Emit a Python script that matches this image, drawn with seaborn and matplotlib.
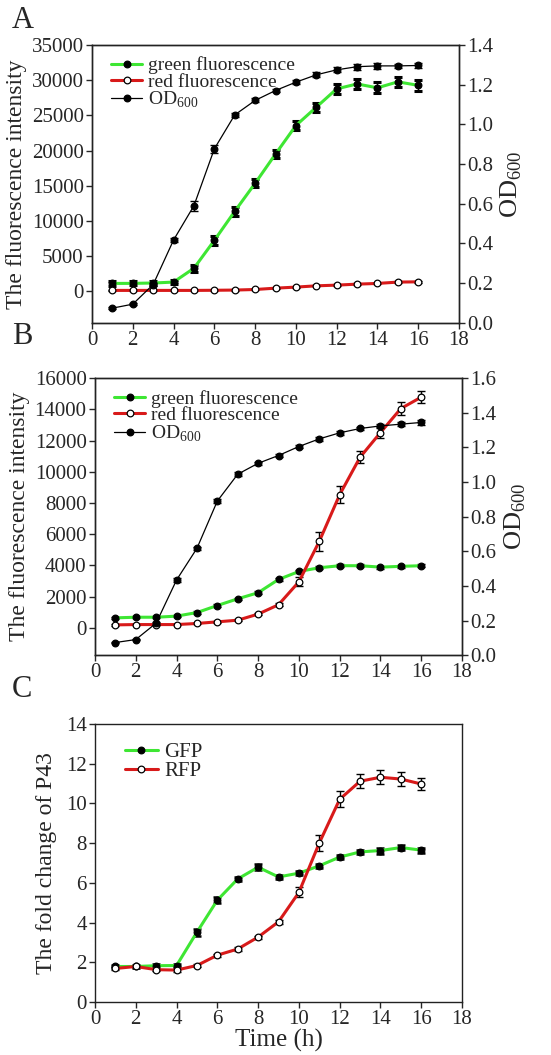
import numpy as np
import pandas as pd
import matplotlib
matplotlib.use('Agg')
import matplotlib.pyplot as plt
import seaborn as sns

# time points (h)
time = list(range(1, 17))

# panel A
a_green = [1140, 1150, 1200, 1330, 3300, 7250, 11370, 15350, 19500, 23550, 26150, 28750, 29450, 28900, 29750, 29250]
a_green_err = [300, 300, 300, 300, 500, 600, 600, 550, 600, 600, 650, 700, 750, 800, 750, 800]
a_red = [150, 150, 150, 150, 150, 170, 200, 280, 470, 620, 800, 900, 1040, 1140, 1330, 1370]
a_red_err = [80, 80, 80, 80, 80, 80, 80, 80, 80, 80, 90, 90, 100, 100, 100, 100]
a_od = [0.074, 0.094, 0.193, 0.417, 0.59, 0.876, 1.047, 1.12, 1.17, 1.212, 1.249, 1.274, 1.29, 1.294, 1.294, 1.296]
a_od_err = [0.005, 0.005, 0.008, 0.012, 0.025, 0.02, 0.01, 0.01, 0.01, 0.01, 0.012, 0.012, 0.015, 0.015, 0.012, 0.012]

# panel B
b_green = [640, 680, 680, 750, 980, 1430, 1860, 2250, 3100, 3610, 3850, 3980, 3980, 3890, 3940, 3980]
b_green_err = [80, 80, 80, 80, 80, 80, 80, 80, 90, 90, 90, 90, 90, 90, 90, 90]
b_red = [190, 210, 210, 210, 280, 385, 490, 880, 1480, 2950, 5540, 8530, 10930, 12510, 14050, 14780]
b_red_err = [60, 60, 60, 60, 60, 60, 60, 80, 100, 300, 600, 550, 400, 350, 400, 400]
b_od = [0.073, 0.09, 0.185, 0.434, 0.617, 0.89, 1.045, 1.108, 1.153, 1.205, 1.249, 1.284, 1.309, 1.324, 1.334, 1.344]
b_od_err = [0.005, 0.005, 0.008, 0.01, 0.01, 0.012, 0.01, 0.01, 0.01, 0.01, 0.01, 0.01, 0.01, 0.01, 0.012, 0.012]

# panel C
c_gfp = [1.79, 1.79, 1.83, 1.84, 3.52, 5.13, 6.2, 6.79, 6.3, 6.49, 6.86, 7.3, 7.56, 7.63, 7.78, 7.65]
c_gfp_err = [0.1, 0.1, 0.1, 0.1, 0.18, 0.15, 0.12, 0.15, 0.12, 0.1, 0.1, 0.12, 0.12, 0.15, 0.12, 0.12]
c_rfp = [1.69, 1.79, 1.63, 1.61, 1.84, 2.36, 2.67, 3.27, 4.04, 5.52, 8.01, 10.21, 11.12, 11.32, 11.23, 10.98]
c_rfp_err = [0.08, 0.08, 0.08, 0.08, 0.08, 0.08, 0.08, 0.08, 0.1, 0.25, 0.4, 0.4, 0.35, 0.35, 0.35, 0.3]

GREEN = '#3ee633'
RED = '#d81a1a'

sns.set_style('ticks')
plt.rcParams['font.family'] = ['Liberation Serif', 'DejaVu Serif']
plt.rcParams['mathtext.fontset'] = 'custom'
plt.rcParams['mathtext.rm'] = 'Liberation Serif'
plt.rcParams['axes.edgecolor'] = '#222222'
plt.rcParams['axes.linewidth'] = 1.0

fig = plt.figure(figsize=(5.51, 10.55), dpi=100)


def draw(ax, y, err, color, lw, filled, label, capthick=1.0):
    df = pd.DataFrame({'time': time, 'value': y})
    sns.lineplot(data=df, x='time', y='value', ax=ax, color=color, linewidth=lw,
                 marker='o', markersize=4.8, markeredgecolor='black', markeredgewidth=0.9,
                 markerfacecolor='black' if filled else 'white', label=label, zorder=3)
    ax.errorbar(time, y, yerr=err, fmt='none', ecolor='black', elinewidth=1.0,
                capsize=3, capthick=capthick, zorder=2)


def style_x(ax):
    ax.set_xlim(0, 18)
    ax.set_xticks(np.arange(0, 19, 2))
    ax.set_xlabel('')
    ax.tick_params(axis='both', labelsize=15, direction='out', length=4, width=1, pad=2)


def growth_panel(rect, green, green_err, red, red_err, od, od_err, ylim, yticks, od_ylim, od_ticks, gcap):
    ax = fig.add_axes(rect)
    draw(ax, green, green_err, GREEN, 2.2, True, 'green fluorescence', capthick=gcap)
    draw(ax, red, red_err, RED, 2.2, False, 'red fluorescence')
    ax.set_ylim(*ylim)
    ax.set_yticks(yticks)
    ax.set_ylabel('The fluorescence intensity', fontsize=17, labelpad=3)
    style_x(ax)
    ax2 = ax.twinx()
    draw(ax2, od, od_err, 'black', 0.9, True, 'OD$_{600}$')
    ax2.set_ylim(*od_ylim)
    ax2.set_yticks(od_ticks)
    ax2.set_yticklabels(['%.1f' % v for v in od_ticks])
    ax2.set_ylabel('OD$_{600}$', fontsize=19, labelpad=4)
    ax2.tick_params(axis='y', labelsize=15, direction='out', length=4, width=1, pad=2)
    h1, l1 = ax.get_legend_handles_labels()
    h2, l2 = ax2.get_legend_handles_labels()
    if ax.get_legend():
        ax.get_legend().remove()
    ax2.legend(h1 + h2, l1 + l2, loc='upper left', frameon=False, fontsize=14,
               handlelength=1.6, handletextpad=0.3, labelspacing=-0.05,
               borderaxespad=0.2, bbox_to_anchor=(0.02, 1.0))
    return ax, ax2


growth_panel([0.167, 0.694, 0.666, 0.2635], a_green, a_green_err, a_red, a_red_err,
             a_od, a_od_err, (-4450, 35000), np.arange(0, 35001, 5000),
             (0, 1.4), np.arange(0, 1.41, 0.2), 2.2)

growth_panel([0.1724, 0.379, 0.6661, 0.2626], b_green, b_green_err, b_red, b_red_err,
             b_od, b_od_err, (-1750, 16000), np.arange(0, 16001, 2000),
             (0, 1.6), np.arange(0, 1.61, 0.2), 1.0)

axc = fig.add_axes([0.1724, 0.0502, 0.6661, 0.2635])
draw(axc, c_gfp, c_gfp_err, GREEN, 2.2, True, 'GFP', capthick=1.8)
draw(axc, c_rfp, c_rfp_err, RED, 2.2, False, 'RFP')
axc.set_ylim(0, 14)
axc.set_yticks(np.arange(0, 15, 2))
style_x(axc)
axc.set_ylabel('The fold change of P43', fontsize=17, labelpad=6)
axc.set_xlabel('Time (h)', fontsize=18, labelpad=0)
axc.legend(loc='upper left', frameon=False, fontsize=15, handlelength=1.6,
           handletextpad=0.3, labelspacing=-0.05, bbox_to_anchor=(0.03, 1.0))

fig.text(0.022, 0.981, 'A', fontsize=22, va='center', ha='left')
fig.text(0.022, 0.681, 'B', fontsize=22, va='center', ha='left')
fig.text(0.022, 0.346, 'C', fontsize=22, va='center', ha='left')

fig.savefig('out.png', dpi=100)
